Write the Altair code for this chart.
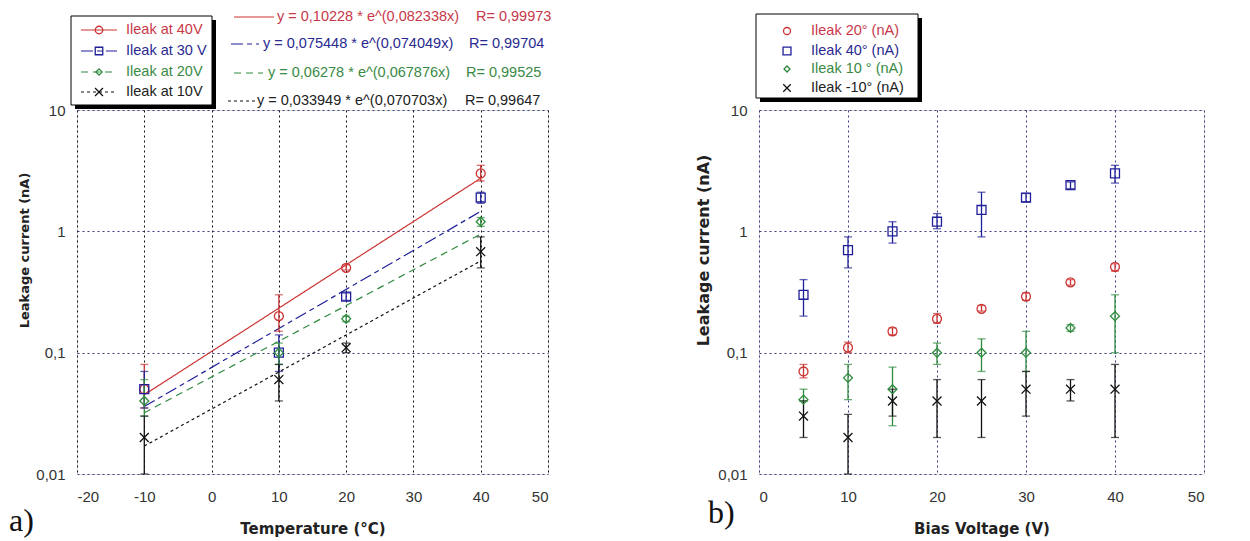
import altair as alt
import pandas as pd

# ---------------- panel a) : leakage vs temperature ----------------
temps = [-10, 10, 20, 40]
series_a = ["Ileak at 40V", "Ileak at 30 V", "Ileak at 20V", "Ileak at 10V"]
i40v = [0.05, 0.2, 0.5, 3.0]
i40v_lo = [0.035, 0.15, 0.48, 2.6]
i40v_hi = [0.08, 0.3, 0.53, 3.5]
i30v = [0.05, 0.1, 0.29, 1.9]
i30v_lo = [0.035, 0.07, 0.27, 1.7]
i30v_hi = [0.07, 0.14, 0.31, 2.1]
i20v = [0.04, 0.1, 0.19, 1.2]
i20v_lo = [0.03, 0.08, 0.18, 1.1]
i20v_hi = [0.06, 0.12, 0.2, 1.3]
i10v = [0.02, 0.06, 0.11, 0.68]
i10v_lo = [0.01, 0.04, 0.1, 0.5]
i10v_hi = [0.03, 0.08, 0.12, 0.9]

fit_x = [-10, 40]
fit40 = [0.045, 2.74]
fit30 = [0.036, 1.46]
fit20 = [0.032, 0.95]
fit10 = [0.017, 0.57]
fit_eq = ["y = 0,10228 * e^(0,082338x)", "y = 0,075448 * e^(0,074049x)",
          "y = 0,06278 * e^(0,067876x)", "y = 0,033949 * e^(0,070703x)"]
fit_r = ["R= 0,99973", "R= 0,99704", "R= 0,99525", "R= 0,99647"]

xticks_a = [-20, -10, 0, 10, 20, 30, 40, 50]
yticks = [0.01, 0.1, 1, 10]

# ---------------- panel b) : leakage vs bias voltage ----------------
bias = [5, 10, 15, 20, 25, 30, 35, 40]
series_b = ["Ileak 20° (nA)", "Ileak 40° (nA)", "Ileak 10 ° (nA)", "Ileak -10° (nA)"]
t20 = [0.07, 0.11, 0.15, 0.19, 0.23, 0.29, 0.38, 0.51]
t20_lo = [0.062, 0.1, 0.14, 0.175, 0.22, 0.27, 0.36, 0.47]
t20_hi = [0.08, 0.122, 0.16, 0.21, 0.245, 0.31, 0.4, 0.54]
t40 = [0.3, 0.7, 1.0, 1.2, 1.5, 1.9, 2.4, 3.0]
t40_lo = [0.2, 0.5, 0.8, 1.05, 0.9, 1.75, 2.25, 2.5]
t40_hi = [0.4, 0.9, 1.2, 1.4, 2.1, 2.05, 2.55, 3.5]
t10 = [0.041, 0.062, 0.05, 0.1, 0.1, 0.1, 0.16, 0.2]
t10_lo = [0.04, 0.041, 0.025, 0.08, 0.07, 0.07, 0.15, 0.1]
t10_hi = [0.05, 0.08, 0.076, 0.12, 0.13, 0.15, 0.17, 0.3]
tm10 = [0.03, 0.02, 0.04, 0.04, 0.04, 0.05, 0.05, 0.05]
tm10_lo = [0.02, 0.01, 0.03, 0.02, 0.02, 0.03, 0.04, 0.02]
tm10_hi = [0.04, 0.031, 0.05, 0.06, 0.06, 0.07, 0.06, 0.08]

xticks_b = [0, 10, 20, 30, 40, 50]

# ---------------- styles ----------------
RED, BLUE, GREEN, BLACK = "#cc3333", "#1f1f99", "#2e8b3e", "#111111"
TXT_COLORS = ["#c8384a", "#2a2a90", "#3a8a45", "#222222"]
colors = [RED, BLUE, GREEN, BLACK]
X_PATH = "M-1,-1L1,1M-1,1L1,-1"
shapes = ["circle", "square", "diamond", X_PATH]
dashes = [[1, 0], [12, 4, 5, 4], [7, 5], [3, 3]]
FRAME = "#3c3c85"
LBL_FONT = "Liberation Sans"
TTL_FONT = "DejaVu Sans"

W_A, W_B, H = 471, 445, 364


def long_df(xs, groups, names):
    rows = []
    for name, (v, lo, hi) in zip(names, groups):
        for x, a, b, c in zip(xs, v, lo, hi):
            rows.append({"x": x, "y": a, "lo": b, "hi": c, "series": name})
    return pd.DataFrame(rows)


df_a = long_df(temps, [(i40v, i40v_lo, i40v_hi), (i30v, i30v_lo, i30v_hi),
                       (i20v, i20v_lo, i20v_hi), (i10v, i10v_lo, i10v_hi)], series_a)
df_b = long_df(bias, [(t20, t20_lo, t20_hi), (t40, t40_lo, t40_hi),
                      (t10, t10_lo, t10_hi), (tm10, tm10_lo, tm10_hi)], series_b)
fit_df = pd.DataFrame([{"x": x, "y": v, "series": s}
                       for s, vals in zip(series_a, [fit40, fit30, fit20, fit10])
                       for x, v in zip(fit_x, vals)])

comma_label = "replace(''+datum.value, '.', ',')"


def x_axis(title, values, grid_color):
    return alt.Axis(title=title, values=values, labelExpr=comma_label, grid=True,
                    gridColor=grid_color, gridDash=[2, 3], gridWidth=1, domain=False,
                    ticks=False, labelPadding=15, labelFont=LBL_FONT, labelFontSize=15,
                    labelColor="#333333", titleFont=TTL_FONT, titleFontSize=15,
                    titleFontWeight="bold", titleColor="#222222",
                    titleY=54, titleBaseline="middle")


def y_axis(title_size, title_x):
    return alt.Axis(title="Leakage current (nA)", values=yticks, labelExpr=comma_label,
                    grid=True, gridColor=FRAME, gridDash=[2, 3], gridWidth=1,
                    domain=False, ticks=False, labelPadding=12, labelFont=LBL_FONT,
                    labelFontSize=15, labelColor="#333333", titleFont=TTL_FONT,
                    titleFontSize=title_size, titleFontWeight="bold",
                    titleColor="#222222", titleX=title_x, titleY=140,
                    titleBaseline="middle", titleAlign="center")


def panel(df, xdom, xaxis, yaxis, names, sizes, fits=None):
    xs = alt.Scale(domain=xdom, nice=False, zero=False)
    ys = alt.Scale(type="log", domain=[0.01, 10], nice=False)
    col = alt.Color("series:N", scale=alt.Scale(domain=names, range=colors), legend=None)
    base = alt.Chart(df)
    layers = []
    if fits is not None:
        layers.append(alt.Chart(fits).mark_line(strokeWidth=1.2).encode(
            x=alt.X("x:Q", scale=xs, axis=xaxis),
            y=alt.Y("y:Q", scale=ys, axis=yaxis),
            color=col,
            strokeDash=alt.StrokeDash("series:N", scale=alt.Scale(domain=names, range=dashes),
                                      legend=None),
            detail="series:N"))
    layers.append(base.mark_rule(strokeWidth=1.3).encode(
        x=alt.X("x:Q", scale=xs, axis=xaxis),
        y=alt.Y("lo:Q", scale=ys, axis=yaxis), y2="hi:Q", color=col))
    for f in ["lo", "hi"]:
        layers.append(base.mark_tick(orient="horizontal", size=8, thickness=1.3).encode(
            x=alt.X("x:Q", scale=xs, axis=xaxis),
            y=alt.Y(f + ":Q", scale=ys, axis=yaxis), color=col))
    layers.append(base.mark_point(filled=False, strokeWidth=1.3, opacity=1).encode(
        x=alt.X("x:Q", scale=xs, axis=xaxis),
        y=alt.Y("y:Q", scale=ys, axis=yaxis),
        color=col,
        shape=alt.Shape("series:N", scale=alt.Scale(domain=names, range=shapes), legend=None),
        size=alt.Size("series:N", scale=alt.Scale(domain=names, range=sizes), legend=None)))
    return layers


def one(**kw):
    return alt.Chart(pd.DataFrame([kw]))


def box(x1, x2, y1, y2):
    shadow = one(k=0).mark_rect(fill="black").encode(
        x=alt.value(x1 + 4), x2=alt.value(x2 + 4), y=alt.value(y1 + 4), y2=alt.value(y2 + 4))
    frame = one(k=0).mark_rect(fill="white", stroke="black", strokeWidth=1).encode(
        x=alt.value(x1), x2=alt.value(x2), y=alt.value(y1), y2=alt.value(y2))
    return [shadow, frame]


def text(label, x, y, color, size=14, font=LBL_FONT):
    return one(t=label).mark_text(align="left", baseline="middle", fontSize=size,
                                  font=font, color=color).encode(
        x=alt.value(x), y=alt.value(y), text="t:N")


def sample_line(x1, x2, y, color, dash):
    return one(k=0).mark_rule(color=color, strokeWidth=1.2, strokeDash=dash).encode(
        x=alt.value(x1), x2=alt.value(x2), y=alt.value(y))


def marker(x, y, color, shape, size):
    return one(k=0).mark_point(filled=False, strokeWidth=1.3, opacity=1, color=color,
                               shape=shape, size=size).encode(x=alt.value(x), y=alt.value(y))


# ---- left panel ----
sizes_a = [80, 80, 55, 90]
layers_a = panel(df_a, [-20, 50], x_axis("Temperature (°C)", xticks_a, "#111111"),
                 y_axis(13, -53), series_a, sizes_a, fits=fit_df)
layers_a += box(-6, 135, -94, -5)
rows_a = [-80, -59, -38, -18]
for i in range(4):
    layers_a.append(sample_line(4, 40, rows_a[i], colors[i], dashes[i]))
    layers_a.append(marker(22, rows_a[i], colors[i], shapes[i], sizes_a[i] * 0.7))
    layers_a.append(text(series_a[i], 49, rows_a[i], TXT_COLORS[i], 14.5))
eq_rows = [-93, -66, -37, -9]
eq_line = [(157, 197), (154, 182), (157, 186), (151, 179)]
eq_x = [200, 186, 191, 180]
r_x = [399, 392, 389, 388]
for i in range(4):
    layers_a.append(sample_line(eq_line[i][0], eq_line[i][1], eq_rows[i], colors[i], dashes[i]))
    layers_a.append(text(fit_eq[i], eq_x[i], eq_rows[i], TXT_COLORS[i], 14.5))
    layers_a.append(text(fit_r[i], r_x[i], eq_rows[i], TXT_COLORS[i], 14.5))
layers_a.append(text("a)", -68, 411, "#111111", 32, "Liberation Serif"))
left = alt.layer(*layers_a).properties(width=W_A, height=H)

# ---- right panel ----
sizes_b = [70, 90, 50, 80]
layers_b = panel(df_b, [0, 50], x_axis("Bias Voltage (V)", xticks_b, FRAME),
                 y_axis(16, -56), series_b, sizes_b)
layers_b += box(-3, 159, -96, -12)
rows_b = [-79, -59, -41, -22]
for i in range(4):
    layers_b.append(marker(28, rows_b[i], colors[i], shapes[i], sizes_b[i] * 0.7))
    layers_b.append(text(series_b[i], 52, rows_b[i], TXT_COLORS[i], 14.5))
layers_b.append(text("b)", -51, 403, "#111111", 32, "Liberation Serif"))
right = alt.layer(*layers_b).properties(width=W_B, height=H)

chart = alt.hconcat(left, right, spacing=211, bounds="flush").properties(
    padding={"left": 0, "top": 0, "right": 5, "bottom": 5}
).configure_view(stroke=FRAME, strokeWidth=1.5).configure(background="white")

chart.save("out.html", embed_options={"renderer": "svg", "actions": False})
